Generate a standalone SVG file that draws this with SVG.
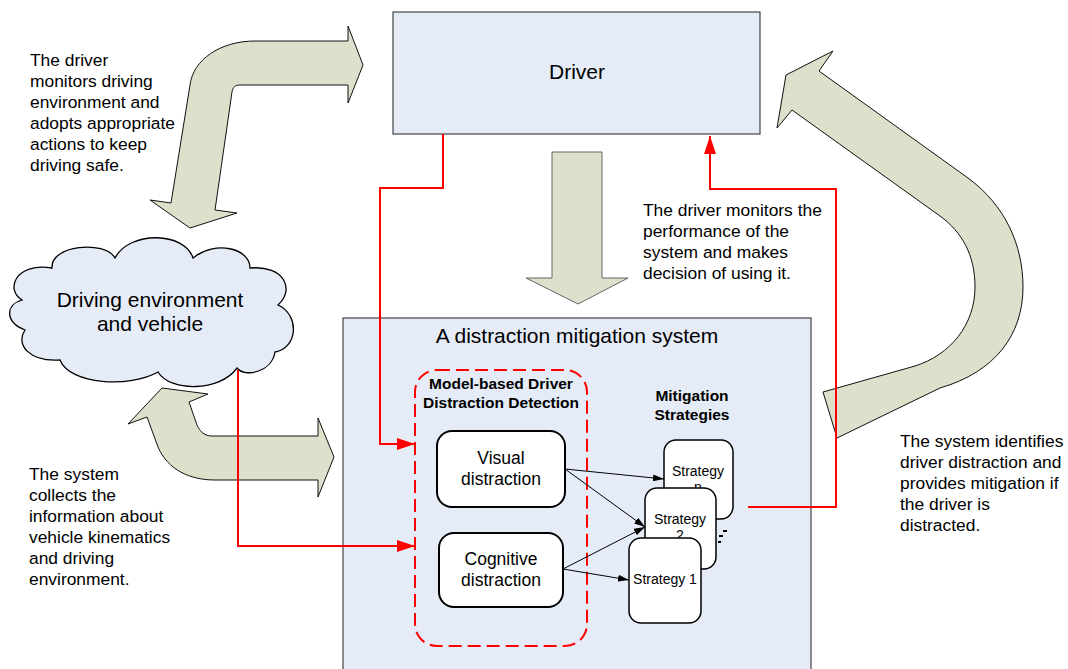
<svg xmlns="http://www.w3.org/2000/svg" width="1068" height="669" viewBox="0 0 1068 669">
  <defs>
    <style>
      text { font-family: "Liberation Sans", Arial, sans-serif; fill: #000; }
      .note { font-size: 17.4px; }
      .title { font-size: 21px; text-anchor: middle; }
      .head { font-size: 15.5px; font-weight: bold; text-anchor: middle; }
      .lbl { font-size: 17.5px; text-anchor: middle; }
      .strat { font-size: 14px; text-anchor: middle; }
      .panel { fill: #e5ecf7; stroke: #444; stroke-width: 1.2; }
      .block { fill: #dde0cb; stroke: #111; stroke-width: 1; stroke-linejoin: miter; }
      .node { fill: #fff; stroke: #000; stroke-width: 2; }
      .snode { fill: #fff; stroke: #000; stroke-width: 1.5; }
      .red { fill: none; stroke: #ff0000; stroke-width: 2; }
      .blk { fill: none; stroke: #000; stroke-width: 1; }
    </style>
    <marker id="redHead" viewBox="0 0 18 12" markerUnits="userSpaceOnUse" markerWidth="18" markerHeight="12" refX="18" refY="6" orient="auto">
      <path d="M0,0 L18,6 L0,12 Z" fill="#ff0000"/>
    </marker>
    <marker id="blkHead" viewBox="0 0 11 7" markerUnits="userSpaceOnUse" markerWidth="11" markerHeight="7" refX="11" refY="3.5" orient="auto">
      <path d="M0,0 L11,3.5 L0,7 Z" fill="#000"/>
    </marker>
  </defs>

  <rect width="1068" height="669" fill="#fff"/>

  <!-- wide block arrows between driver, environment and system -->
  <g id="flow-arrows">
    <path class="block" d="M363,65 L348,26 L348,41 L255,41 C220,41 193,60 190,85 L171,203 L150,200 L190,228 L237,213 L215,210 L232,92 C233,87 235,85 240,85 L348,85 L348,103 Z"/>
    <path class="block" style="stroke:#666" d="M552,152 L602,152 L602,278 L628,278 L578,304 L526,278 L552,278 Z"/>
    <path class="block" d="M786,75 L833,51 L819,71 L968,178 C1005,205 1023,245 1023,287 C1023,335 995,372 940,388 L837,438 L823,392 L915,366 C950,355 975,325 975,287 C975,255 962,232 940,216 L792,110 L777,128 Z"/>
    <path class="block" d="M162,388 L208,394 L189,402 L197,425 C200,432 205,436 212,436 L318,436 L318,418 L334,457 L318,497 L318,480 L215,480 C190,480 168,470 158,447 L147,417 L128,424 Z"/>
  </g>

  <g id="driver">
    <rect class="panel" x="393" y="12" width="367" height="122"/>
    <text class="title" x="577" y="79">Driver</text>
  </g>

  <g id="system">
    <rect class="panel" x="343" y="318" width="468" height="360"/>
    <text class="title" x="577" y="343">A distraction mitigation system</text>
  </g>

  <g id="environment">
    <path class="panel" style="stroke:#000;stroke-width:1.3" d="M22,300 C5,290 15,262 52,268 C50,245 105,240 115,258 C130,230 185,232 193,258 C215,240 250,248 250,268 C285,265 295,290 278,305 C300,315 298,348 275,352 C272,372 245,378 237,368 C220,392 170,392 158,372 C130,388 70,385 60,360 C30,362 15,345 25,330 C5,322 5,305 22,300 Z"/>
    <text class="title" x="150" y="307">Driving environment</text>
    <text class="title" x="150" y="331">and vehicle</text>
  </g>

  <g id="detection">
    <rect x="415" y="370" width="172" height="276" rx="22" fill="none" stroke="#ff0000" stroke-width="2" stroke-dasharray="13,6"/>
    <text class="head" x="501" y="389">Model-based Driver</text>
    <text class="head" x="501" y="408">Distraction Detection</text>
  </g>

  <g id="visual">
    <rect class="node" x="437" y="431" width="128" height="76" rx="15"/>
    <text class="lbl" x="501" y="464">Visual</text>
    <text class="lbl" x="501" y="485">distraction</text>
  </g>

  <g id="cognitive">
    <rect class="node" x="439" y="533" width="124" height="74" rx="15"/>
    <text class="lbl" x="501" y="565">Cognitive</text>
    <text class="lbl" x="501" y="586">distraction</text>
  </g>

  <g id="strategies-label">
    <text class="head" x="692" y="401">Mitigation</text>
    <text class="head" x="692" y="420">Strategies</text>
  </g>

  <g id="strategy-n">
    <rect class="snode" x="664" y="440" width="69" height="79" rx="12"/>
    <text class="strat" x="698" y="476">Strategy</text>
    <text class="strat" x="698" y="492">n</text>
  </g>

  <g id="strategy-2">
    <rect class="snode" x="645" y="488" width="71" height="81" rx="12"/>
    <text class="strat" x="680" y="524">Strategy</text>
    <text class="strat" x="680" y="540">2</text>
  </g>

  <g id="ellipsis">
    <path d="M723,531 h4 M719,536 h4 M718,542 h3" stroke="#000" stroke-width="2"/>
  </g>

  <g id="strategy-1">
    <rect class="snode" x="629" y="538" width="72" height="85" rx="12"/>
    <text class="strat" x="665" y="584">Strategy 1</text>
  </g>

  <g id="connectors">
    <path class="red" d="M443,134 V188 H380 V444 H415" marker-end="url(#redHead)"/>
    <path class="red" d="M238,370 V546 H415" marker-end="url(#redHead)"/>
    <path class="red" d="M748,507 H836 V189 H710 V136" marker-end="url(#redHead)"/>
    <path class="blk" d="M565,469 L664,479" marker-end="url(#blkHead)"/>
    <path class="blk" d="M565,469 L645,527" marker-end="url(#blkHead)"/>
    <path class="blk" d="M563,569 L645,527" marker-end="url(#blkHead)"/>
    <path class="blk" d="M563,569 L629,580" marker-end="url(#blkHead)"/>
  </g>

  <g id="notes">
    <text class="note" x="30" y="66">The driver</text>
    <text class="note" x="30" y="87">monitors driving</text>
    <text class="note" x="30" y="108">environment and</text>
    <text class="note" x="30" y="129">adopts appropriate</text>
    <text class="note" x="30" y="150">actions to keep</text>
    <text class="note" x="30" y="171">driving safe.</text>

    <text class="note" x="643" y="216">The driver monitors the</text>
    <text class="note" x="643" y="237">performance of the</text>
    <text class="note" x="643" y="258">system and makes</text>
    <text class="note" x="643" y="279">decision of using it.</text>

    <text class="note" x="29" y="480">The system</text>
    <text class="note" x="29" y="501">collects the</text>
    <text class="note" x="29" y="522">information about</text>
    <text class="note" x="29" y="543">vehicle kinematics</text>
    <text class="note" x="29" y="564">and driving</text>
    <text class="note" x="29" y="585">environment.</text>

    <text class="note" x="900" y="447">The system identifies</text>
    <text class="note" x="900" y="468">driver distraction and</text>
    <text class="note" x="900" y="489">provides mitigation if</text>
    <text class="note" x="900" y="510">the driver is</text>
    <text class="note" x="900" y="531">distracted.</text>
  </g>
</svg>
